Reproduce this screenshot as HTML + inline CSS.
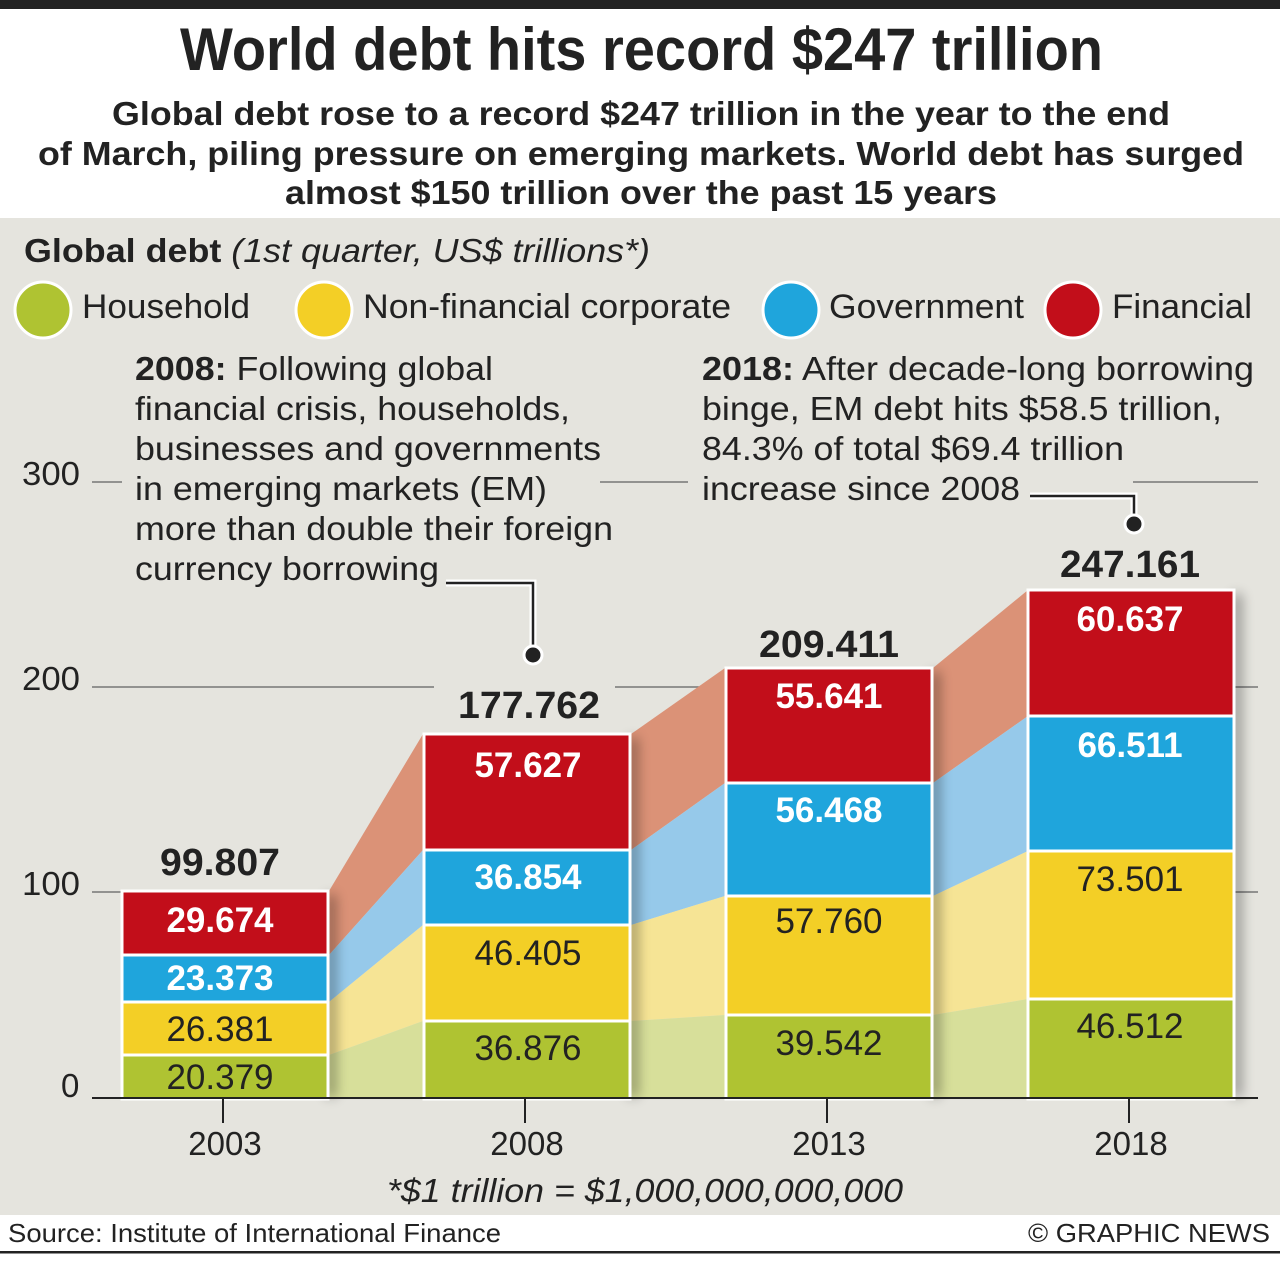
<!DOCTYPE html>
<html><head><meta charset="utf-8"><style>
html,body{margin:0;padding:0;background:#fff}
svg{display:block}
text{font-family:"Liberation Sans",Arial,sans-serif;fill:#222}
.b{font-weight:bold}
</style></head><body>
<svg width="1280" height="1262" viewBox="0 0 1280 1262" xmlns="http://www.w3.org/2000/svg">
<defs>
<filter id="sh" x="-10%" y="-10%" width="130%" height="120%"><feGaussianBlur stdDeviation="6"/></filter>
</defs>
<rect x="0" y="0" width="1280" height="1262" fill="#fff"/>
<rect x="0" y="0" width="1280" height="9" fill="#222"/>
<rect x="0" y="218" width="1280" height="997" fill="#e5e4de"/>
<rect x="0" y="1251" width="1280" height="2.5" fill="#222"/>

<text x="180" y="70" font-size="60" class="b" textLength="923" lengthAdjust="spacingAndGlyphs">World debt hits record $247 trillion</text>
<text x="112" y="125" font-size="33" class="b" textLength="1058" lengthAdjust="spacingAndGlyphs">Global debt rose to a record $247 trillion in the year to the end</text>
<text x="38" y="165" font-size="33" class="b" textLength="1206" lengthAdjust="spacingAndGlyphs">of March, piling pressure on emerging markets. World debt has surged</text>
<text x="285" y="204" font-size="33" class="b" textLength="712" lengthAdjust="spacingAndGlyphs">almost $150 trillion over the past 15 years</text>

<text x="24" y="262" font-size="33" textLength="626" lengthAdjust="spacingAndGlyphs"><tspan font-weight="bold">Global debt</tspan> <tspan font-style="italic">(1st quarter, US$ trillions*)</tspan></text>

<g stroke="#fff" stroke-width="3">
<circle cx="43" cy="310" r="28" fill="#afc332"/>
<circle cx="324" cy="310" r="28" fill="#f3cf26"/>
<circle cx="791" cy="310" r="28" fill="#1fa5dc"/>
<circle cx="1073" cy="310" r="28" fill="#c20e1a"/>
</g>
<text x="82" y="318" font-size="34" textLength="168" lengthAdjust="spacingAndGlyphs">Household</text>
<text x="363" y="318" font-size="34" textLength="368" lengthAdjust="spacingAndGlyphs">Non-financial corporate</text>
<text x="829" y="318" font-size="34" textLength="195" lengthAdjust="spacingAndGlyphs">Government</text>
<text x="1112" y="318" font-size="34" textLength="140" lengthAdjust="spacingAndGlyphs">Financial</text>

<g stroke="#777" stroke-width="1.5">
<line x1="92" y1="482" x2="122" y2="482"/>
<line x1="600" y1="482" x2="688" y2="482"/>
<line x1="1133" y1="482" x2="1258" y2="482"/>
<line x1="92" y1="687" x2="434" y2="687"/>
<line x1="615" y1="687" x2="700" y2="687"/>
<line x1="1235" y1="687" x2="1258" y2="687"/>
<line x1="92" y1="892" x2="122" y2="892"/>
<line x1="1235" y1="892" x2="1258" y2="892"/>
</g>
<g font-size="33">
<text x="22" y="485" textLength="58" lengthAdjust="spacingAndGlyphs">300</text>
<text x="22" y="690" textLength="58" lengthAdjust="spacingAndGlyphs">200</text>
<text x="22" y="895" textLength="58" lengthAdjust="spacingAndGlyphs">100</text>
<text x="61" y="1097">0</text>
</g>

<g>
<polygon points="329,891 423,734 423,850 329,955" fill="#db9277"/>
<polygon points="329,955 423,850 423,925 329,1002" fill="#96c9ea"/>
<polygon points="329,1002 423,925 423,1021 329,1055" fill="#f6e495"/>
<polygon points="329,1055 423,1021 423,1097 329,1097" fill="#d7df9a"/>

<polygon points="631,734 725,668 725,783 631,850" fill="#db9277"/>
<polygon points="631,850 725,783 725,896 631,925" fill="#96c9ea"/>
<polygon points="631,925 725,896 725,1015 631,1021" fill="#f6e495"/>
<polygon points="631,1021 725,1015 725,1097 631,1097" fill="#d7df9a"/>

<polygon points="933,668 1028,590 1028,716 933,783" fill="#db9277"/>
<polygon points="933,783 1028,716 1028,851 933,896" fill="#96c9ea"/>
<polygon points="933,896 1028,851 1028,999 933,1015" fill="#f6e495"/>
<polygon points="933,1015 1028,999 1028,1097 933,1097" fill="#d7df9a"/>
</g>

<g fill="#000" opacity="0.35" filter="url(#sh)">
<rect x="326" y="895" width="10" height="202"/>
<rect x="628" y="738" width="10" height="359"/>
<rect x="930" y="672" width="10" height="425"/>
<rect x="1232" y="594" width="10" height="503"/>
</g>

<g stroke="#fff" stroke-width="3">
<rect x="122" y="891" width="206" height="64" fill="#c20e1a"/>
<rect x="122" y="955" width="206" height="47" fill="#1fa5dc"/>
<rect x="122" y="1002" width="206" height="53" fill="#f3cf26"/>
<rect x="122" y="1055" width="206" height="44" fill="#afc332"/>

<rect x="424" y="734" width="206" height="116" fill="#c20e1a"/>
<rect x="424" y="850" width="206" height="75" fill="#1fa5dc"/>
<rect x="424" y="925" width="206" height="96" fill="#f3cf26"/>
<rect x="424" y="1021" width="206" height="78" fill="#afc332"/>

<rect x="726" y="668" width="206" height="115" fill="#c20e1a"/>
<rect x="726" y="783" width="206" height="113" fill="#1fa5dc"/>
<rect x="726" y="896" width="206" height="119" fill="#f3cf26"/>
<rect x="726" y="1015" width="206" height="84" fill="#afc332"/>

<rect x="1028" y="590" width="206" height="126" fill="#c20e1a"/>
<rect x="1028" y="716" width="206" height="135" fill="#1fa5dc"/>
<rect x="1028" y="851" width="206" height="148" fill="#f3cf26"/>
<rect x="1028" y="999" width="206" height="100" fill="#afc332"/>
</g>

<g stroke="#222" stroke-width="2">
<line x1="92" y1="1098" x2="1258" y2="1098"/>
<line x1="223" y1="1098" x2="223" y2="1123"/>
<line x1="525" y1="1098" x2="525" y2="1123"/>
<line x1="827" y1="1098" x2="827" y2="1123"/>
<line x1="1129" y1="1098" x2="1129" y2="1123"/>
</g>
<g font-size="33" text-anchor="middle">
<text x="225" y="1155">2003</text>
<text x="527" y="1155">2008</text>
<text x="829" y="1155">2013</text>
<text x="1131" y="1155">2018</text>
</g>

<g font-size="38" text-anchor="middle" font-weight="bold">
<text x="220" y="875" textLength="120" lengthAdjust="spacingAndGlyphs">99.807</text>
<text x="529" y="718" textLength="142" lengthAdjust="spacingAndGlyphs">177.762</text>
<text x="829" y="657" textLength="140" lengthAdjust="spacingAndGlyphs">209.411</text>
<text x="1130" y="577" textLength="140" lengthAdjust="spacingAndGlyphs">247.161</text>
</g>
<g font-size="35" text-anchor="middle">
<text x="220" y="932" class="b" style="fill:#fff">29.674</text>
<text x="220" y="990" class="b" style="fill:#fff">23.373</text>
<text x="220" y="1041">26.381</text>
<text x="220" y="1089">20.379</text>

<text x="528" y="777" class="b" style="fill:#fff">57.627</text>
<text x="528" y="889" class="b" style="fill:#fff">36.854</text>
<text x="528" y="965">46.405</text>
<text x="528" y="1060">36.876</text>

<text x="829" y="708" class="b" style="fill:#fff">55.641</text>
<text x="829" y="822" class="b" style="fill:#fff">56.468</text>
<text x="829" y="933">57.760</text>
<text x="829" y="1055">39.542</text>

<text x="1130" y="631" class="b" style="fill:#fff">60.637</text>
<text x="1130" y="757" class="b" style="fill:#fff">66.511</text>
<text x="1130" y="891">73.501</text>
<text x="1130" y="1038">46.512</text>
</g>

<g font-size="33">
<text x="135" y="380" textLength="358" lengthAdjust="spacingAndGlyphs"><tspan font-weight="bold">2008:</tspan> Following global</text>
<text x="135" y="420" textLength="435" lengthAdjust="spacingAndGlyphs">financial crisis, households,</text>
<text x="135" y="460" textLength="466" lengthAdjust="spacingAndGlyphs">businesses and governments</text>
<text x="135" y="500" textLength="412" lengthAdjust="spacingAndGlyphs">in emerging markets (EM)</text>
<text x="135" y="540" textLength="478" lengthAdjust="spacingAndGlyphs">more than double their foreign</text>
<text x="135" y="580" textLength="304" lengthAdjust="spacingAndGlyphs">currency borrowing</text>

<text x="702" y="380" textLength="552" lengthAdjust="spacingAndGlyphs"><tspan font-weight="bold">2018:</tspan> After decade-long borrowing</text>
<text x="702" y="420" textLength="520" lengthAdjust="spacingAndGlyphs">binge, EM debt hits $58.5 trillion,</text>
<text x="702" y="460" textLength="422" lengthAdjust="spacingAndGlyphs">84.3% of total $69.4 trillion</text>
<text x="702" y="500" textLength="318" lengthAdjust="spacingAndGlyphs">increase since 2008</text>
</g>
<g fill="none" stroke-linejoin="miter">
<polyline points="446,583 533,583 533,655" stroke="#fff" stroke-width="7"/>
<polyline points="446,583 533,583 533,655" stroke="#222" stroke-width="2.5"/>
<polyline points="1030,496 1134,496 1134,524" stroke="#fff" stroke-width="7"/>
<polyline points="1030,496 1134,496 1134,524" stroke="#222" stroke-width="2.5"/>
</g>
<circle cx="533" cy="655" r="9" fill="#222" stroke="#fff" stroke-width="3"/>
<circle cx="1134" cy="524" r="9" fill="#222" stroke="#fff" stroke-width="3"/>

<text x="645" y="1202" font-size="33" font-style="italic" text-anchor="middle" textLength="516" lengthAdjust="spacingAndGlyphs">*$1 trillion = $1,000,000,000,000</text>
<text x="8" y="1242" font-size="26" textLength="493" lengthAdjust="spacingAndGlyphs">Source: Institute of International Finance</text>
<text x="1270" y="1242" font-size="26" text-anchor="end" textLength="242" lengthAdjust="spacingAndGlyphs">© GRAPHIC NEWS</text>
</svg>
</body></html>
